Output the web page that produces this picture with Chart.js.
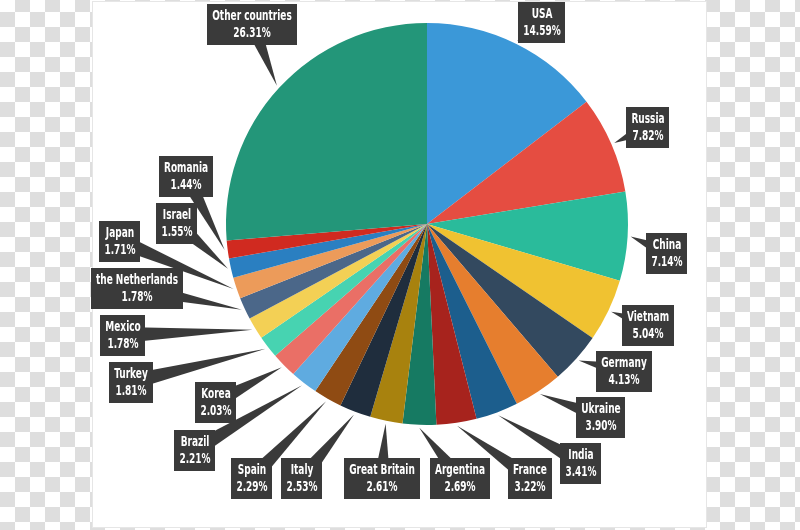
<!DOCTYPE html>
<html>
<head>
<meta charset="utf-8">
<script src="https://cdn.jsdelivr.net/npm/chart.js@4/dist/chart.umd.min.js"></script>
<style>
  html, body { margin: 0; padding: 0; background: #ffffff; }
  #wrap { width: 800px; height: 530px; position: relative; }
</style>
</head>
<body>
<div id="wrap"><canvas id="c" width="800" height="530"></canvas></div>
<script>
// ---- data ----
const countries = ["USA","Russia","China","Vietnam","Germany","Ukraine","India","France","Argentina","Great Britain","Italy","Spain","Brazil","Korea","Turkey","Mexico","the Netherlands","Japan","Israel","Romania","Other countries"];
const shares = [14.59,7.82,7.14,5.04,4.13,3.90,3.41,3.22,2.69,2.61,2.53,2.29,2.21,2.03,1.81,1.78,1.78,1.71,1.55,1.44,26.31];
const sliceColors = ["#3b98d8","#e54d41","#2abb9b","#f0c231","#33495f","#e67e2e","#1c5e8d","#a7231d","#167a62","#a8820e","#1f2d3d","#8f4b13","#5fabe0","#ea6f66","#47d3b1","#f3d055","#4b6789","#ec9b5a","#2a7fc1","#d02a20","#239679"];

// ---- label layout (box centres, canvas px) ----
const labelBoxes = [
  [542,22],[648,127],[667,253],[648,325],[624,371],[601,417],[581,463],[530,478],
  [460,478],[382,478],[302,478],[252,478],[195,450],[216,402],[131,382],[123,335],
  [137,288],[120,241],[177,223],[186,176],[252,24]
];

const bgPlugin = {
  id: 'bg',
  beforeDraw(chart) {
    const ctx = chart.ctx;
    ctx.save();
    ctx.fillStyle = '#ffffff';
    ctx.fillRect(0, 0, 800, 530);
    ctx.fillStyle = '#dedede';
    const s = 15;
    for (let y = -3; y < 530; y += s) {
      for (let x = 0; x < 800; x += s) {
        if (((Math.round(x / s) + Math.round((y + 3) / s)) % 2) === 1) ctx.fillRect(x, y, s, s);
      }
    }
    ctx.fillStyle = '#ffffff';
    ctx.fillRect(92, 1, 615, 527);
    ctx.strokeStyle = '#e6e6e6';
    ctx.lineWidth = 1;
    ctx.strokeRect(92.5, 1.5, 614, 526);
    ctx.restore();
  }
};

const SX = 0.74;
function drawNarrow(ctx, text, x, y) {
  ctx.save();
  ctx.translate(x, y);
  ctx.scale(SX, 1);
  ctx.fillText(text, 0, 0);
  ctx.restore();
}

const labelPlugin = {
  id: 'callouts',
  afterDatasetsDraw(chart) {
    const ctx = chart.ctx;
    const meta = chart.getDatasetMeta(0);
    ctx.save();
    ctx.font = 'bold 13.5px "DejaVu Sans Condensed", "DejaVu Sans", sans-serif';
    ctx.textAlign = 'center';
    ctx.textBaseline = 'middle';
    meta.data.forEach((arc, i) => {
      const p = arc.getProps(['x','y','startAngle','endAngle','outerRadius'], true);
      const mid = (p.startAngle + p.endAngle) / 2;
      const r = p.outerRadius + 3;
      const tx = p.x + Math.cos(mid) * r;
      const ty = p.y + Math.sin(mid) * r;
      const [cx, cy] = labelBoxes[i];
      const l1 = chart.data.labels[i];
      const l2 = chart.data.datasets[0].data[i].toFixed(2) + '%';
      const w = Math.max(ctx.measureText(l1).width, ctx.measureText(l2).width) * SX + 10;
      const h = 41;
      const dx = tx - cx, dy = ty - cy;
      const len = Math.hypot(dx, dy) || 1;
      const px = -dy / len, py = dx / len;
      const hw = 8;
      ctx.fillStyle = '#3a3a3a';
      ctx.beginPath();
      ctx.moveTo(cx + px * hw, cy + py * hw);
      ctx.lineTo(tx, ty);
      ctx.lineTo(cx - px * hw, cy - py * hw);
      ctx.closePath();
      ctx.fill();
      ctx.fillRect(Math.round(cx - w / 2), Math.round(cy - h / 2), Math.round(w), h);
      ctx.fillStyle = '#ffffff';
      drawNarrow(ctx, l1, cx, cy - 8);
      drawNarrow(ctx, l2, cx, cy + 9);
    });
    ctx.restore();
  }
};

new Chart(document.getElementById('c'), {
  type: 'pie',
  data: {
    labels: countries,
    datasets: [{
      data: shares,
      backgroundColor: sliceColors,
      borderWidth: 0
    }]
  },
  options: {
    responsive: false,
    animation: false,
    layout: { padding: { left: 226, right: 172, top: 23, bottom: 105 } },
    plugins: { legend: { display: false }, tooltip: { enabled: false } }
  },
  plugins: [bgPlugin, labelPlugin]
});
</script>
</body>
</html>
